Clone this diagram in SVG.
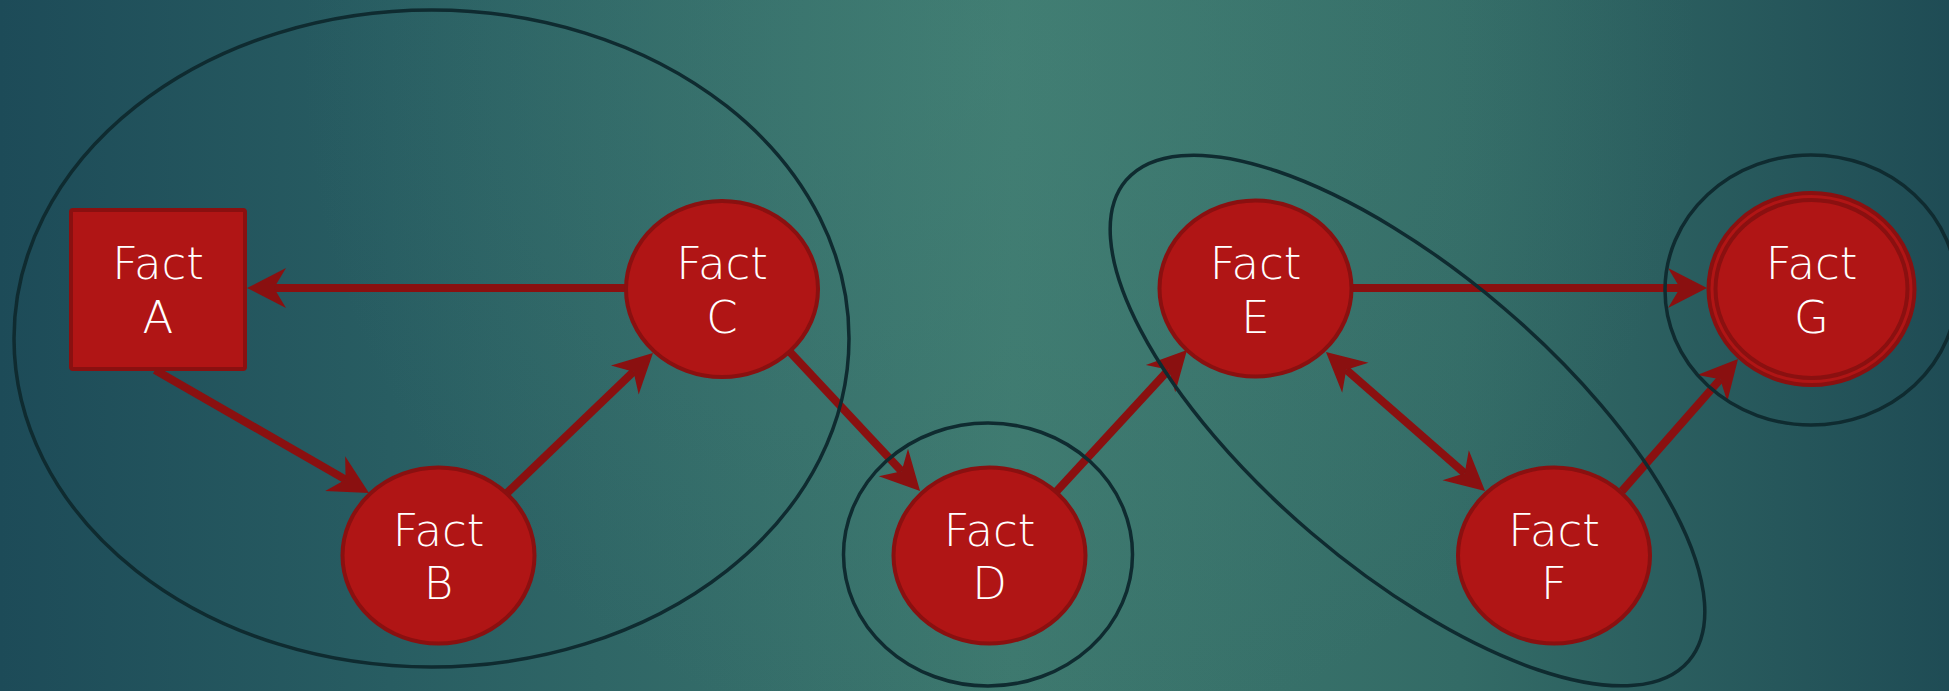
<svg xmlns="http://www.w3.org/2000/svg" width="1949" height="691" viewBox="0 0 1949 691">
  <defs>
    <linearGradient id="bg" x1="0" y1="0" x2="1949" y2="0" gradientUnits="userSpaceOnUse">
      <stop offset="0" stop-color="#1D4B58"/>
      <stop offset="0.2" stop-color="#285D62"/>
      <stop offset="0.52" stop-color="#3D786E"/>
      <stop offset="0.75" stop-color="#336B66"/>
      <stop offset="1" stop-color="#1F4C55"/>
    </linearGradient>
    <radialGradient id="glow" cx="1000" cy="60" r="700" gradientUnits="userSpaceOnUse">
      <stop offset="0" stop-color="#4A8A7E" stop-opacity="0.35"/>
      <stop offset="1" stop-color="#4A8A7E" stop-opacity="0"/>
    </radialGradient>
    <marker id="arrow" viewBox="-14 -22 44 44" markerWidth="44" markerHeight="44" refX="0" refY="0" orient="auto-start-reverse" markerUnits="userSpaceOnUse">
      <path d="M27,0 L-12,-20 L0,0 L-12,20 Z" fill="#8A1010"/>
    </marker>
    <style>
      .fact { fill: #B01515; stroke: #8A1010; stroke-width: 4; }
      .group { fill: none; stroke: #0F2B30; stroke-width: 3.5; }
      .link { stroke: #8A1010; stroke-width: 8; fill: none; }
      .lbl { fill: #FFFFFF; font-family: "DejaVu Sans", "Liberation Sans", sans-serif; font-weight: 200; font-size: 45px; text-anchor: middle; }
    </style>
  </defs>

  <rect x="0" y="0" width="1949" height="691" fill="url(#bg)"/>
  <rect x="0" y="0" width="1949" height="691" fill="url(#glow)"/>

  <!-- connectors -->
  <g id="connectors">
    <line class="link" x1="625" y1="288" x2="274" y2="288" marker-end="url(#arrow)"/>
    <line class="link" x1="155" y1="370" x2="345.6" y2="479.6" marker-end="url(#arrow)"/>
    <line class="link" x1="506" y1="494" x2="633.5" y2="371.7" marker-end="url(#arrow)"/>
    <line class="link" x1="789" y1="351" x2="901.6" y2="471.3" marker-end="url(#arrow)"/>
    <line class="link" x1="1055" y1="493" x2="1168.7" y2="369.8" marker-end="url(#arrow)"/>
    <line class="link" x1="1346.3" y1="369.8" x2="1464.7" y2="473.2" marker-start="url(#arrow)" marker-end="url(#arrow)"/>
    <line class="link" x1="1353" y1="288" x2="1680" y2="288" marker-end="url(#arrow)"/>
    <line class="link" x1="1622" y1="491" x2="1720.2" y2="379.3" marker-end="url(#arrow)"/>
  </g>

  <!-- groupings -->
  <g id="groups">
    <ellipse class="group" cx="431.5" cy="338.5" rx="417.5" ry="328.5"/>
    <ellipse class="group" cx="988" cy="554.5" rx="144.5" ry="131.5"/>
    <ellipse class="group" cx="1407.5" cy="420.5" rx="370" ry="148" transform="rotate(40.5 1407.5 420.5)"/>
    <ellipse class="group" cx="1811" cy="290" rx="146" ry="135"/>
  </g>

  <g id="fact-a">
    <rect class="fact" x="71" y="210" width="174" height="159" rx="2"/>
    <text class="lbl" x="158" y="279">Fact</text>
    <text class="lbl" x="158" y="333">A</text>
  </g>
  <g id="fact-b">
    <ellipse class="fact" cx="438.5" cy="555.5" rx="96" ry="88"/>
    <text class="lbl" x="438.5" y="546">Fact</text>
    <text class="lbl" x="438.5" y="599">B</text>
  </g>
  <g id="fact-c">
    <ellipse class="fact" cx="722" cy="289" rx="96" ry="88"/>
    <text class="lbl" x="722" y="279">Fact</text>
    <text class="lbl" x="722" y="333">C</text>
  </g>
  <g id="fact-d">
    <ellipse class="fact" cx="989.5" cy="555.5" rx="96" ry="88"/>
    <text class="lbl" x="989.5" y="546">Fact</text>
    <text class="lbl" x="989.5" y="599">D</text>
  </g>
  <g id="fact-e">
    <ellipse class="fact" cx="1255.5" cy="288.5" rx="96" ry="88"/>
    <text class="lbl" x="1255.5" y="279">Fact</text>
    <text class="lbl" x="1255.5" y="333">E</text>
  </g>
  <g id="fact-f">
    <ellipse class="fact" cx="1554" cy="555.5" rx="96" ry="88"/>
    <text class="lbl" x="1554" y="546">Fact</text>
    <text class="lbl" x="1554" y="599">F</text>
  </g>
  <g id="fact-g">
    <ellipse class="fact" cx="1811.5" cy="289" rx="103" ry="96"/>
    <ellipse cx="1811.5" cy="289" rx="96" ry="89" fill="none" stroke="#8A1010" stroke-width="4"/>
    <text class="lbl" x="1811.5" y="279">Fact</text>
    <text class="lbl" x="1811.5" y="333">G</text>
  </g>
</svg>
